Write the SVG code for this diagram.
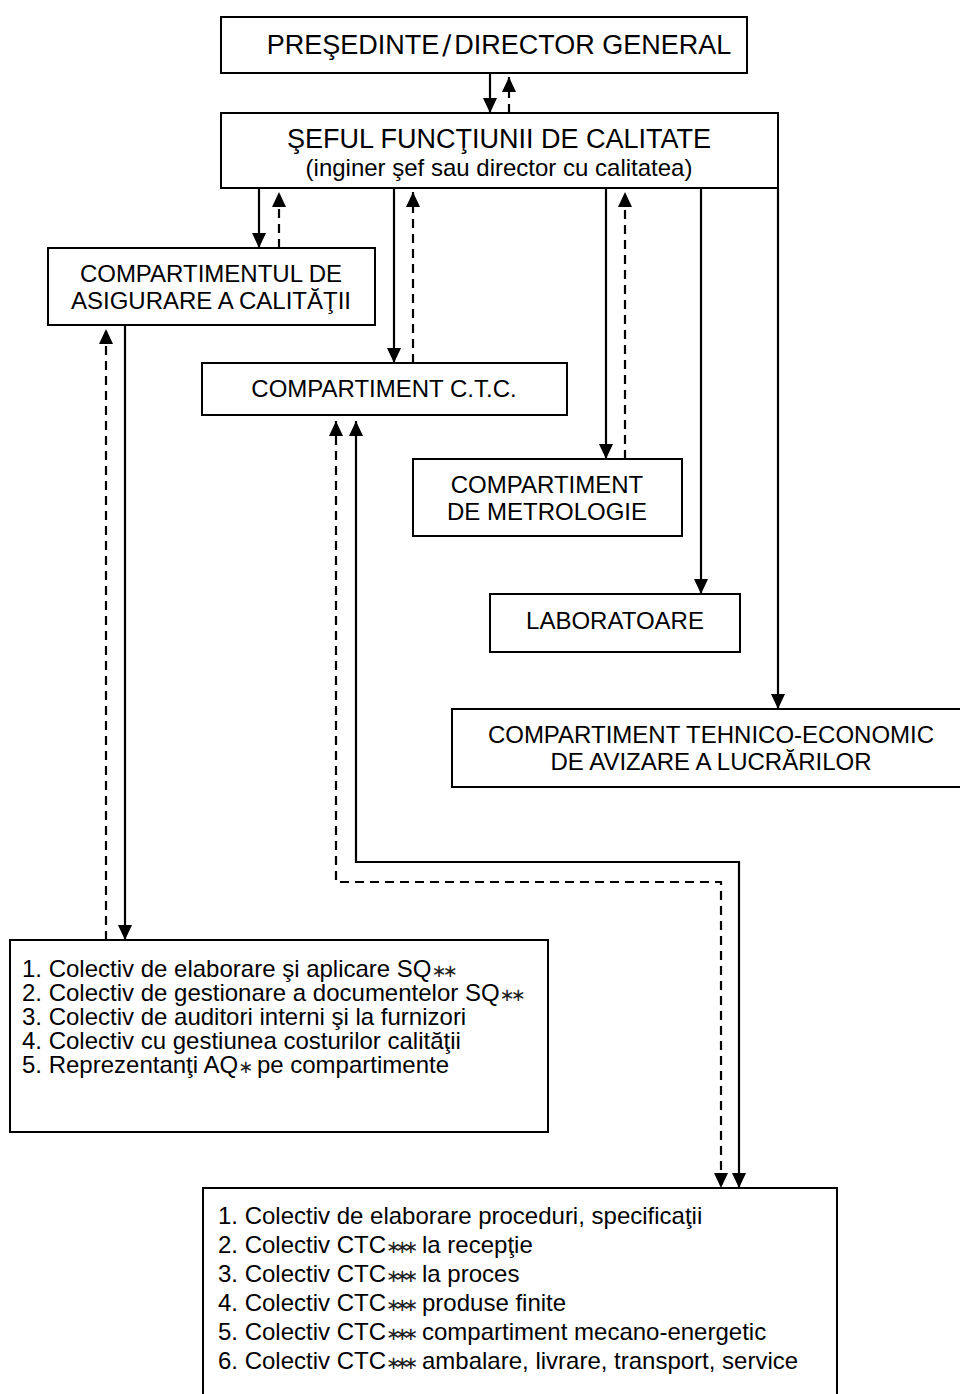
<svg xmlns="http://www.w3.org/2000/svg" width="960" height="1394" viewBox="0 0 960 1394">
  <style>
    .box { fill: #ffffff; stroke: #000000; stroke-width: 2; }
    .t { font-family: "Liberation Sans", Arial, "DejaVu Sans", sans-serif; fill: #000000; }
    .title { font-size: 24px; text-anchor: middle; }
    .big { font-size: 27px; text-anchor: middle; }
    .sub { font-size: 24px; text-anchor: middle; }
    .slash { font-family: "DejaVu Sans", sans-serif; }
    .list1 { font-size: 24px; }
    .list2 { font-size: 24px; }
    .ast { font-family: "DejaVu Sans", sans-serif; font-size: 18px; fill: #222222; }
    .solid { fill: none; stroke: #000000; stroke-width: 2.2; }
    .dash { fill: none; stroke: #000000; stroke-width: 2.2; stroke-dasharray: 9 6; }
  </style>
  <defs>
    <marker id="arrow" markerUnits="userSpaceOnUse" viewBox="0 0 15 14" markerWidth="15" markerHeight="14" refX="15" refY="7" orient="auto-start-reverse">
      <path d="M0,0 L15,7 L0,14 Z" fill="#000000"/>
    </marker>
  </defs>

  <rect width="960" height="1394" fill="#ffffff"/>

  <!-- connectors -->
  <g id="connectors">
    <!-- president / director general <-> quality head -->
    <path class="solid" d="M490,73 V113" marker-end="url(#arrow)"/>
    <path class="dash" d="M509,113 V77" marker-end="url(#arrow)"/>
    <!-- quality head -> quality assurance -->
    <path class="solid" d="M259,188 V248" marker-end="url(#arrow)"/>
    <path class="dash" d="M279,248 V192" marker-end="url(#arrow)"/>
    <!-- quality head -> C.T.C. -->
    <path class="solid" d="M394,188 V363" marker-end="url(#arrow)"/>
    <path class="dash" d="M413,363 V192" marker-end="url(#arrow)"/>
    <!-- quality head -> metrology -->
    <path class="solid" d="M606,188 V459" marker-end="url(#arrow)"/>
    <path class="dash" d="M625,459 V192" marker-end="url(#arrow)"/>
    <!-- quality head -> laboratories -->
    <path class="solid" d="M701,188 V594" marker-end="url(#arrow)"/>
    <!-- quality head -> technical-economic -->
    <path class="solid" d="M778,188 V709" marker-end="url(#arrow)"/>
    <!-- quality assurance <-> its teams -->
    <path class="solid" d="M125,325 V940" marker-end="url(#arrow)"/>
    <path class="dash" d="M106,940 V329" marker-end="url(#arrow)"/>
    <!-- C.T.C. <-> its teams -->
    <path class="solid" d="M356,421 V862 H739 V1188" marker-start="url(#arrow)" marker-end="url(#arrow)"/>
    <path class="dash" d="M336,421 V882 H721 V1188" marker-start="url(#arrow)" marker-end="url(#arrow)"/>
  </g>

  <g id="presedinte">
    <rect class="box" x="221" y="17" width="526" height="56"/>
    <text class="t big" x="499" y="54">PREŞEDINTE<tspan class="slash" dx="3">∕</tspan><tspan dx="3">DIRECTOR GENERAL</tspan></text>
  </g>

  <g id="sef-calitate">
    <rect class="box" x="221" y="113" width="557" height="75"/>
    <text class="t big" x="499" y="148">ŞEFUL FUNCŢIUNII DE CALITATE</text>
    <text class="t sub" x="499" y="176">(inginer şef sau director cu calitatea)</text>
  </g>

  <g id="asigurare">
    <rect class="box" x="48" y="248" width="327" height="77"/>
    <text class="t title" x="211" y="282">COMPARTIMENTUL DE</text>
    <text class="t title" x="211" y="309">ASIGURARE A CALITĂŢII</text>
  </g>

  <g id="ctc">
    <rect class="box" x="202" y="363" width="365" height="52"/>
    <text class="t title" x="384" y="397">COMPARTIMENT C.T.C.</text>
  </g>

  <g id="metrologie">
    <rect class="box" x="413" y="459" width="269" height="77"/>
    <text class="t title" x="547" y="493">COMPARTIMENT</text>
    <text class="t title" x="547" y="520">DE METROLOGIE</text>
  </g>

  <g id="laboratoare">
    <rect class="box" x="490" y="594" width="250" height="58"/>
    <text class="t title" x="615" y="629">LABORATOARE</text>
  </g>

  <g id="tehnico-economic">
    <rect class="box" x="452" y="709" width="520" height="78"/>
    <text class="t title" x="711" y="743">COMPARTIMENT TEHNICO-ECONOMIC</text>
    <text class="t title" x="711" y="770">DE AVIZARE A LUCRĂRILOR</text>
  </g>

  <g id="colective-aq">
    <rect class="box" x="10" y="940" width="538" height="192"/>
    <text class="t list1" x="22" y="977">1. Colectiv de elaborare şi aplicare SQ<tspan class="ast" dx="0 -4">∗∗</tspan></text>
    <text class="t list1" x="22" y="1001">2. Colectiv de gestionare a documentelor SQ<tspan class="ast" dx="0 -4">∗∗</tspan></text>
    <text class="t list1" x="22" y="1025">3. Colectiv de auditori interni şi la furnizori</text>
    <text class="t list1" x="22" y="1049">4. Colectiv cu gestiunea costurilor calităţii</text>
    <text class="t list1" x="22" y="1073">5. Reprezentanţi AQ<tspan class="ast">∗</tspan><tspan dx="-3"> pe compartimente</tspan></text>
  </g>

  <g id="colective-ctc">
    <rect class="box" x="203" y="1188" width="634" height="230"/>
    <text class="t list2" x="218" y="1224">1. Colectiv de elaborare proceduri, specificaţii</text>
    <text class="t list2" x="218" y="1253">2. Colectiv CTC<tspan class="ast" dx="0 -6.5 -6.5">∗∗∗</tspan><tspan dx="-3"> la recepţie</tspan></text>
    <text class="t list2" x="218" y="1282">3. Colectiv CTC<tspan class="ast" dx="0 -6.5 -6.5">∗∗∗</tspan><tspan dx="-3"> la proces</tspan></text>
    <text class="t list2" x="218" y="1311">4. Colectiv CTC<tspan class="ast" dx="0 -6.5 -6.5">∗∗∗</tspan><tspan dx="-3"> produse finite</tspan></text>
    <text class="t list2" x="218" y="1340">5. Colectiv CTC<tspan class="ast" dx="0 -6.5 -6.5">∗∗∗</tspan><tspan dx="-3"> compartiment mecano-energetic</tspan></text>
    <text class="t list2" x="218" y="1369">6. Colectiv CTC<tspan class="ast" dx="0 -6.5 -6.5">∗∗∗</tspan><tspan dx="-3"> ambalare, livrare, transport, service</tspan></text>
  </g>
</svg>
